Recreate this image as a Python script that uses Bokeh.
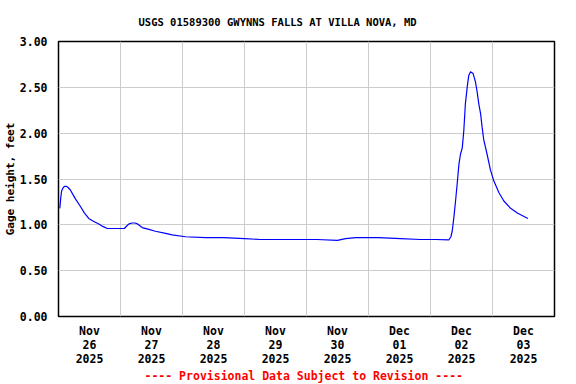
from bokeh.plotting import figure
from bokeh.models import FixedTicker, Range1d, Title
from bokeh.embed import file_html
from bokeh.resources import INLINE

# Hours since 2025-11-26 00:00 and gage height (feet)
hours = [0.5, 0.9, 1.2, 1.7, 2.3, 3.0, 3.6, 4.6, 5.6, 6.6, 8.5, 10.0, 11.7, 13.5, 15.6,
         17.3, 18.9, 22.1, 25.5, 26.5, 27.3, 28.5, 29.6, 30.6, 32.4, 35.0, 37.5, 41.0,
         44.0, 49.2, 56.9, 64.0, 72.0, 78.2, 90.0, 100.0, 108.0, 111.1, 115.0, 124.0,
         132.4, 140.1, 146.0, 151.1, 151.9, 152.4, 153.0, 153.7, 154.3, 155.0, 155.6,
         156.3, 156.9, 157.5, 158.2, 158.8, 159.5, 160.5, 161.4, 162.0, 162.7, 163.4,
         164.0, 164.6, 165.9, 167.2, 168.5, 170.5, 172.4, 175.0, 177.6, 181.7]
gage_ft = [1.18, 1.30, 1.37, 1.40, 1.42, 1.42, 1.41, 1.38, 1.33, 1.28, 1.20, 1.13, 1.07,
           1.04, 1.01, 0.98, 0.96, 0.96, 0.96, 0.99, 1.01, 1.02, 1.02, 1.01, 0.97, 0.95,
           0.93, 0.91, 0.89, 0.87, 0.86, 0.86, 0.85, 0.84, 0.84, 0.84, 0.83, 0.85, 0.86,
           0.86, 0.85, 0.84, 0.84, 0.835, 0.87, 0.93, 1.07, 1.26, 1.44, 1.66, 1.77, 1.84,
           2.03, 2.32, 2.50, 2.63, 2.67, 2.65, 2.56, 2.46, 2.32, 2.21, 2.06, 1.93, 1.77,
           1.60, 1.48, 1.35, 1.26, 1.18, 1.13, 1.07]

day_label_hours = [12, 36, 60, 84, 108, 132, 156, 180]
day_labels = ["Nov\n26\n2025", "Nov\n27\n2025", "Nov\n28\n2025", "Nov\n29\n2025",
              "Nov\n30\n2025", "Dec\n01\n2025", "Dec\n02\n2025", "Dec\n03\n2025"]
midnight_hours = [24, 48, 72, 96, 120, 144, 168]
y_ticks = [0.0, 0.5, 1.0, 1.5, 2.0, 2.5, 3.0]
y_tick_labels = ["0.00", "0.50", "1.00", "1.50", "2.00", "2.50", "3.00"]

FONT = "DejaVu Sans Mono"

p = figure(frame_width=496, frame_height=275, output_backend="svg", toolbar_location=None,
           x_range=Range1d(0, 192), y_range=Range1d(0, 3.0),
           min_border_left=58, min_border_right=22, min_border_top=40,
           min_border_bottom=69)
p.background_fill_color = "white"
p.border_fill_color = "white"
p.outline_line_color = "black"
p.outline_line_width = 1.5

p.line(hours, gage_ft, line_color="#0000ff", line_width=1.2)

# axes
p.xaxis.ticker = FixedTicker(ticks=day_label_hours)
p.xaxis.major_label_overrides = {h: l for h, l in zip(day_label_hours, day_labels)}
p.yaxis.ticker = FixedTicker(ticks=y_ticks)
p.yaxis.major_label_overrides = {v: l for v, l in zip(y_ticks, y_tick_labels)}
for ax in (p.xaxis, p.yaxis):
    ax.axis_line_color = None
    ax.major_tick_line_color = None
    ax.minor_tick_line_color = None
    ax.major_label_text_font = FONT
    ax.major_label_text_font_style = "bold"
    ax.major_label_text_font_size = "11.5px"
    ax.major_label_text_color = "black"
    ax.major_label_text_line_height = 1.0
p.xaxis.major_label_standoff = 1
p.yaxis.major_label_standoff = 5
p.yaxis.axis_label = "Gage height, feet"
p.yaxis.axis_label_text_font = FONT
p.yaxis.axis_label_text_font_style = "bold"
p.yaxis.axis_label_text_font_size = "11px"
p.yaxis.axis_label_text_color = "black"
p.yaxis.axis_label_text_line_height = 1.0
p.yaxis.axis_label_standoff = 0

# grids
p.xgrid.ticker = FixedTicker(ticks=midnight_hours)
p.ygrid.ticker = FixedTicker(ticks=y_ticks)
p.xgrid.grid_line_color = "#cccccc"
p.ygrid.grid_line_color = "#cccccc"

# title and footer
p.title.text = "USGS 01589300 GWYNNS FALLS AT VILLA NOVA, MD"
p.title.align = "left"
p.title.offset = 80
p.title.text_font = FONT
p.title.text_font_style = "bold"
p.title.text_font_size = "10.5px"
p.title.text_color = "black"
p.title.standoff = 27

p.add_layout(Title(text="---- Provisional Data Subject to Revision ----", align="left",
                   offset=86, text_font=FONT, text_font_style="bold",
                   text_font_size="11.5px", text_color="#ff0000", standoff=-3),
             "below")

open("out.html", "w").write(file_html(p, INLINE))
